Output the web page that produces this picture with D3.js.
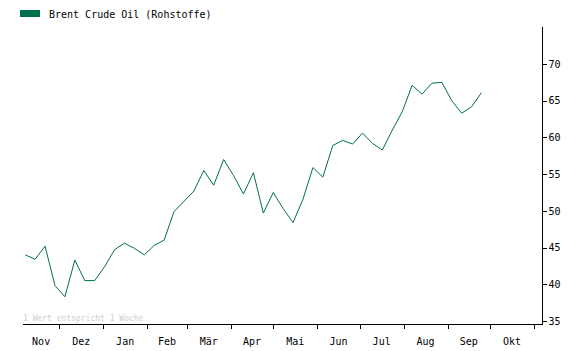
<!DOCTYPE html>
<html>
<head>
<meta charset="utf-8">
<script src="https://cdn.jsdelivr.net/npm/d3@7"></script>
<style>
	body { margin: 0; background: #fff; }
	svg { display: block; }
	text { font-family: "DejaVu Sans Mono", "Liberation Mono", monospace; }
</style>
</head>
<body>
<svg id="chart"></svg>
<script>
var width = 575;
var height = 351;
var lineColor = "#00704f";

var seriesName = "Brent Crude Oil (Rohstoffe)";
var footnote = "1 Wert entspricht 1 Woche";

var weeks = [
	"2020-11-07", "2020-11-14", "2020-11-21", "2020-11-28",
	"2020-12-05", "2020-12-12", "2020-12-19", "2020-12-26",
	"2021-01-02", "2021-01-09", "2021-01-16", "2021-01-23", "2021-01-30",
	"2021-02-06", "2021-02-13", "2021-02-20", "2021-02-27",
	"2021-03-06", "2021-03-13", "2021-03-20", "2021-03-27",
	"2021-04-03", "2021-04-10", "2021-04-17", "2021-04-24",
	"2021-05-01", "2021-05-08", "2021-05-15", "2021-05-22", "2021-05-29",
	"2021-06-05", "2021-06-12", "2021-06-19", "2021-06-26",
	"2021-07-03", "2021-07-10", "2021-07-17", "2021-07-24", "2021-07-31",
	"2021-08-07", "2021-08-14", "2021-08-21", "2021-08-28",
	"2021-09-04", "2021-09-11", "2021-09-18", "2021-09-25"
];

var prices = [
	44.0, 43.4, 45.2, 39.8,
	38.3, 43.3, 40.5, 40.5,
	42.4, 44.7, 45.6, 44.9, 44.0,
	45.3, 46.0, 49.9, 51.3,
	52.7, 55.5, 53.5, 57.0,
	54.8, 52.3, 55.2, 49.7,
	52.5, 50.3, 48.4, 51.6, 55.9,
	54.6, 58.9, 59.6, 59.1,
	60.6, 59.2, 58.3, 61.0, 63.5,
	67.1, 65.9, 67.4, 67.5,
	65.0, 63.3, 64.2, 66.1
];

var monthNames = ["Nov", "Dez", "Jan", "Feb", "Mär", "Apr", "Mai", "Jun", "Jul", "Aug", "Sep", "Okt"];
var yTicks = [35, 40, 45, 50, 55, 60, 65, 70];

var parseDate = d3.timeParse("%Y-%m-%d");
var data = weeks.map(function(d, i) { return [parseDate(d), prices[i]] });

var plot = { left: 23, right: 542.5, top: 27, bottom: 324.5 };

var svg = d3.select("#chart")
	.attr("width", width)
	.attr("height", height);

// Scales ====================================================================

var xScale = d3.scaleTime()
	.domain([new Date(2020, 10, 5, 10), new Date(2021, 10, 7)])
	.range([plot.left, plot.right]);

var yScale = d3.scaleLinear()
	.domain([34.45, 75.05])
	.range([325, 27]);

// Axes ======================================================================

var monthStarts = d3.timeMonth.range(new Date(2020, 11, 1), xScale.domain()[1]);

var xAxis = d3.axisBottom(xScale)
	.tickValues(monthStarts)
	.tickFormat("")
	.tickSize(4)
	.tickSizeOuter(0);

var yAxis = d3.axisRight(yScale)
	.tickValues(yTicks)
	.tickSize(4)
	.tickPadding(2)
	.tickSizeOuter(0);

var gx = svg.append("g")
	.attr("class", "x-axis")
	.attr("transform", "translate(0," + plot.bottom + ")")
	.call(xAxis);

gx.select(".domain")
	.attr("d", "M" + plot.left + ",0H" + plot.right);

var gy = svg.append("g")
	.attr("class", "y-axis")
	.attr("transform", "translate(" + plot.right + ",0)")
	.call(yAxis);

gy.select(".domain")
	.attr("d", "M0," + plot.top + "V" + plot.bottom);

gy.selectAll(".tick text")
	.attr("font-size", 10)
	.attr("font-family", null)
	.attr("fill", "#000");

svg.selectAll(".domain, .tick line")
	.attr("stroke", "#000")
	.attr("shape-rendering", "crispEdges");

// month labels, centred in the visible part of each month
var monthBands = [new Date(2020, 10, 1)].concat(monthStarts);

svg.append("g")
	.attr("class", "month-labels")
	.selectAll("text")
	.data(monthNames)
	.enter()
	.append("text")
	.attr("x", function(d, i) {
		var a = Math.max(xScale(monthBands[i]), plot.left);
		var b = Math.min(xScale(monthBands[i + 1]), plot.right);
		return (a + b) / 2;
	})
	.attr("y", 345)
	.attr("text-anchor", "middle")
	.attr("font-size", 10)
	.attr("fill", "#000")
	.text(function(d) { return d });

// Line ======================================================================

var priceLine = d3.line()
	.x(function(d) { return xScale(d[0]) })
	.y(function(d) { return yScale(d[1]) });

svg.append("path")
	.data([data])
	.attr("class", "line")
	.attr("d", priceLine)
	.attr("fill", "none")
	.attr("stroke", lineColor)
	.attr("stroke-width", 1);

// Legend & note =============================================================

svg.append("rect")
	.attr("x", 20)
	.attr("y", 10)
	.attr("width", 20)
	.attr("height", 7)
	.attr("fill", lineColor);

svg.append("text")
	.attr("x", 49)
	.attr("y", 18)
	.attr("font-size", 10)
	.attr("fill", "#000")
	.text(seriesName);

svg.append("text")
	.attr("x", 23)
	.attr("y", 321)
	.attr("font-size", 8)
	.attr("fill", "#cfcfcf")
	.text(footnote);
</script>
</body>
</html>
